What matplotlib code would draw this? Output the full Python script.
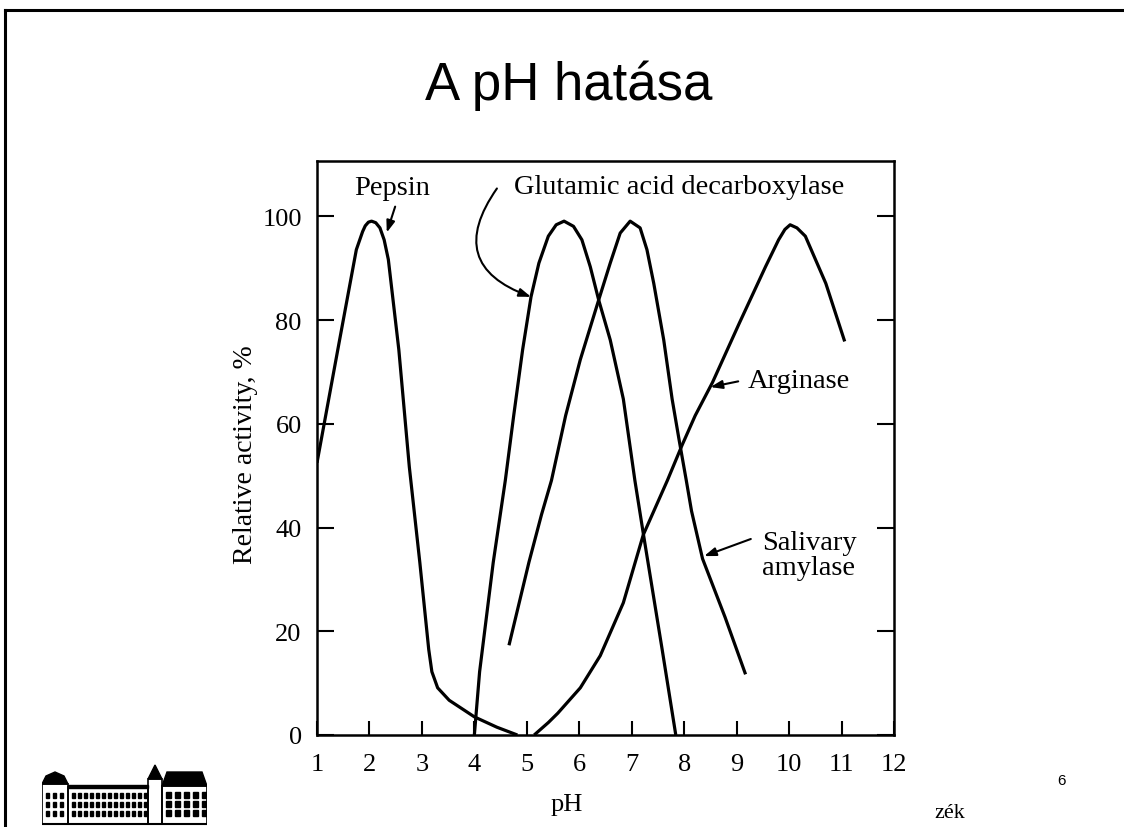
import matplotlib
matplotlib.use("Agg")
import matplotlib.pyplot as plt
from matplotlib.patches import Rectangle, Polygon
from matplotlib.lines import Line2D

# Relative activity (%) vs pH
pepsin_ph = [1.0, 1.42, 1.75, 1.87, 1.92, 1.98, 2.04, 2.12, 2.20, 2.28, 2.36, 2.56, 2.76,
             2.96, 3.13, 3.19, 3.30, 3.52, 4.0, 4.43, 4.82]
pepsin_act = [52.5, 75.6, 93.6, 97.1, 98.2, 98.9, 99.1, 98.8, 97.8, 95.5, 91.7, 74.3, 51.7,
              33.3, 16.5, 12.2, 9.1, 6.7, 3.5, 1.5, 0.0]

gad_ph = [4.0, 4.1, 4.36, 4.59, 4.75, 4.92, 5.08, 5.23, 5.41, 5.56, 5.71, 5.89, 6.05,
          6.21, 6.37, 6.59, 6.84, 7.06, 7.22, 7.58, 7.84]
gad_act = [0.0, 12.2, 33.3, 49.1, 61.6, 74.3, 84.5, 91.0, 96.2, 98.4, 99.1, 98.1, 95.5,
           90.3, 83.9, 76.2, 64.8, 49.1, 38.9, 16.5, 0.0]

amylase_ph = [4.66, 5.04, 5.28, 5.47, 5.74, 6.02, 6.37, 6.59, 6.78, 6.97, 7.16, 7.29, 7.42,
              7.61, 7.77, 7.90, 8.04, 8.14, 8.35, 8.78, 9.17]
amylase_act = [17.3, 33.3, 42.5, 49.1, 61.6, 72.4, 83.9, 91.0, 96.8, 99.1, 97.8, 93.6, 87.1,
               76.2, 64.8, 57.1, 49.1, 43.2, 34.0, 22.7, 11.7]

arginase_ph = [5.14, 5.41, 5.59, 6.02, 6.40, 6.84, 7.22, 7.68, 7.96, 8.21, 8.54, 9.05, 9.55,
               9.80, 9.92, 10.02, 10.15, 10.31, 10.70, 11.06]
arginase_act = [0.0, 2.4, 4.2, 9.1, 15.3, 25.5, 38.6, 49.1, 55.9, 61.6, 68.0, 79.4, 90.3,
                95.5, 97.5, 98.4, 97.8, 96.2, 87.1, 75.9]

x_ticks = list(range(1, 13))
y_ticks = [0, 20, 40, 60, 80, 100]

serif = "Liberation Serif"
sans = "Liberation Sans"

fig = plt.figure(figsize=(11.24, 8.28), dpi=100)
fig.patch.set_facecolor("white")

# slide frame (left and top edge visible)
fig.add_artist(Line2D([5 / 1124, 5 / 1124], [0, 1 - 11 / 828], color="black", lw=2.2,
                      transform=fig.transFigure))
fig.add_artist(Line2D([5 / 1124, 1], [1 - 11 / 828, 1 - 11 / 828], color="black", lw=2.2,
                      transform=fig.transFigure))

fig.text(569 / 1124, 1 - 100 / 828, "A pH hatása", fontsize=38, family=sans,
         ha="center", va="baseline")

ax = fig.add_axes([317 / 1124, 92 / 828, 577 / 1124, 574 / 828])
lw = 2.3
for xs, ys in [(pepsin_ph, pepsin_act), (gad_ph, gad_act),
               (amylase_ph, amylase_act), (arginase_ph, arginase_act)]:
    ax.plot(xs, ys, color="black", lw=lw, solid_joinstyle="round", solid_capstyle="butt")

ax.set_xlim(1, 12)
ax.set_ylim(0, 110.7)
ax.set_xticks(x_ticks)
ax.set_xticklabels([str(v) for v in x_ticks], family=serif, fontsize=19)
ax.set_yticks(y_ticks)
ax.set_yticklabels([str(v) for v in y_ticks], family=serif, fontsize=19)
ax.tick_params(axis="x", direction="in", length=10, width=1.5, pad=13)
ax.tick_params(axis="y", direction="in", length=12, width=1.5, pad=11, right=True)
for s in ax.spines.values():
    s.set_linewidth(1.8)

ax.set_ylabel("Relative activity, %", family=serif, fontsize=20)
ax.yaxis.set_label_coords(-0.102, 0.49)
fig.text(567 / 1124, 1 - 805 / 828, "pH", family=serif, fontsize=19, ha="center", va="center")

arrow = dict(arrowstyle="-|>,head_length=0.7,head_width=0.25", color="black", lw=1.5,
             shrinkA=0, shrinkB=0)
ann_size = 20.5
ax.text(2.43, 105.6, "Pepsin", family=serif, fontsize=ann_size, ha="center", va="center")
ax.annotate("", xy=(2.33, 96.9), xytext=(2.49, 101.9), arrowprops=arrow)

ax.text(7.9, 105.8, "Glutamic acid decarboxylase", family=serif, fontsize=ann_size,
        ha="center", va="center")
ax.annotate("", xy=(5.08, 84.5), xytext=(4.43, 105.4),
            arrowprops=dict(arrow, connectionstyle="arc3,rad=0.65"))

ax.text(9.22, 68.4, "Arginase", family=serif, fontsize=ann_size, ha="left", va="center")
ax.annotate("", xy=(8.50, 67.1), xytext=(9.03, 68.2), arrowprops=arrow)

ax.text(9.48, 34.7, "Salivary\namylase", family=serif, fontsize=ann_size, ha="left",
        va="center", linespacing=1.0)
ax.annotate("", xy=(8.38, 34.5), xytext=(9.27, 37.8), arrowprops=arrow)

# small logo (building sketch) bottom left
lg = fig.add_axes([42 / 1124, 0, 165 / 1124, 63 / 828])
lg.set_xlim(0, 165)
lg.set_ylim(0, 63)
lg.axis("off")
lg.add_patch(Rectangle((0, 3), 26, 40, fill=False, lw=1.2))
lg.add_patch(Polygon([(0, 43), (4, 51), (13, 55), (22, 51), (26, 43)], color="black"))
lg.add_patch(Rectangle((26, 3), 80, 37, fill=False, lw=1.2))
lg.add_patch(Rectangle((26, 39), 80, 3, color="black"))
lg.add_patch(Rectangle((106, 3), 14, 45, fill=False, lw=1.2))
lg.add_patch(Polygon([(106, 48), (113, 62), (120, 48)], color="black"))
lg.add_patch(Rectangle((120, 3), 45, 38, fill=False, lw=1.2))
lg.add_patch(Polygon([(120, 41), (125, 55), (160, 55), (165, 41)], color="black"))
for wy in (29, 20, 11):
    for wx in range(30, 104, 6):
        lg.add_patch(Rectangle((wx, wy), 3, 5, color="black"))
    for wx in (4, 11, 18):
        lg.add_patch(Rectangle((wx, wy), 3, 5, color="black"))
    for wx in range(124, 162, 9):
        lg.add_patch(Rectangle((wx, wy), 5, 6, color="black"))
lg.plot([0, 165], [3, 3], color="black", lw=1.5)

fig.text(1062 / 1124, 1 - 781 / 828, "6", family=sans, fontsize=11, ha="center", va="center")
fig.text(950 / 1124, 1 - 814 / 828, "zék", family=serif, fontsize=16, ha="center", va="center")

fig.savefig("out.png", dpi=100, facecolor="white")
